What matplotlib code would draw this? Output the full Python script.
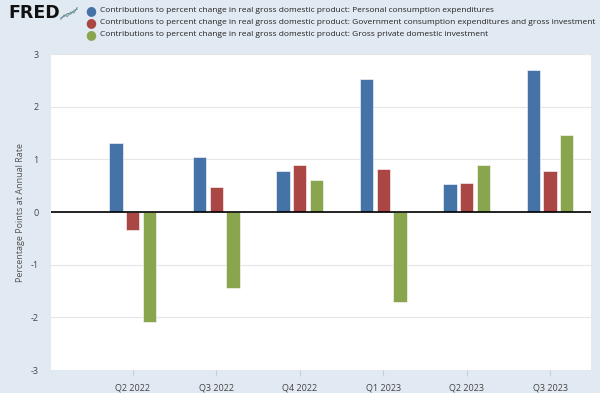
import numpy as np
import matplotlib.pyplot as plt

plt.rcParams['font.family'] = ['Open Sans', 'DejaVu Sans']
plt.rcParams['axes.unicode_minus'] = False

quarters = ["Q2 2022", "Q3 2022", "Q4 2022", "Q1 2023", "Q2 2023", "Q3 2023"]
pce = [1.31, 1.04, 0.78, 2.53, 0.54, 2.69]
gov = [-0.35, 0.47, 0.89, 0.82, 0.56, 0.78]
gpdi = [-2.09, -1.45, 0.61, -1.70, 0.89, 1.46]
names = [
    "Contributions to percent change in real gross domestic product: Personal consumption expenditures",
    "Contributions to percent change in real gross domestic product: Government consumption expenditures and gross investment",
    "Contributions to percent change in real gross domestic product: Gross private domestic investment",
]
colors = ["#4572a7", "#aa4643", "#89a54e"]

bg = "#e1e9f2"
fig = plt.figure(figsize=(6, 3.93), dpi=100, facecolor=bg)
ax = fig.add_axes([51/600, 1-370/393, 540/600, 316/393])
ax.set_facecolor("white")

x = np.arange(len(quarters))
for i, (vals, c) in enumerate(zip([pce, gov, gpdi], colors)):
    ax.bar(x + (i-1)*0.2, vals, width=0.16, color=c, edgecolor="white", linewidth=0.4, zorder=3)

ax.axhline(0, color="black", lw=1.2, zorder=4)
ax.set_ylim(-3, 3)
ax.set_xlim(-0.98, 5.49)
ax.set_yticks(range(-3, 4))
ax.set_xticks(x)
ax.set_xticklabels(quarters)
ax.grid(axis="y", color="#e6e6e6", lw=0.8, zorder=0)
for s in ax.spines.values():
    s.set_visible(False)
ax.tick_params(axis="y", length=0, labelsize=6.5, labelcolor="#444444", pad=9)
ax.tick_params(axis="x", length=4, color="#c0d0e0", labelsize=6.5, labelcolor="#444444", pad=6)
ax.set_ylabel("Percentage Points at Annual Rate", fontsize=6.5, color="#555555", labelpad=4)

# header
fig.text(8/600, 1-13/393, "FRED", fontsize=12.5, fontweight="bold", color="#111111",
         va="center", ha="left", family="DejaVu Sans")
icon = fig.add_axes([60/600, 1-20/393, 18/600, 13/393])
icon.plot([0, 1, 2, 3, 4, 5], [0, 1.5, 1, 2.5, 2.2, 4], color="#7aa66a", lw=0.8)
icon.plot([0, 1, 2, 3, 4, 5], [0.5, 1, 2, 1.8, 3, 3.5], color="#6c8fb8", lw=0.8)
icon.axis("off")

for i, (n, c) in enumerate(zip(names, colors)):
    y = 1 - (11 + i*12)/393
    fig.text(91/600, y, "\u25cf", color=c, fontsize=9, va="center", ha="center", family="DejaVu Sans")
    fig.text(100/600, y, n, fontsize=6.05, color="#222222", va="center", ha="left")

fig.savefig("out.png", dpi=100, facecolor=bg)
